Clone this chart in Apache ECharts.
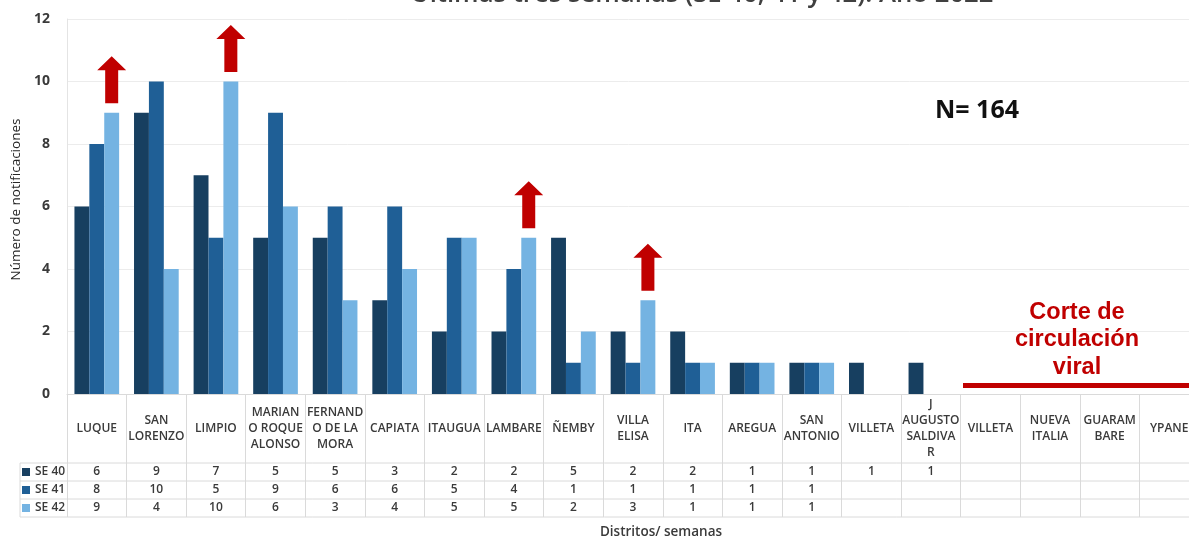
<!DOCTYPE html>
<html>
<head>
<meta charset="utf-8">
<script src="https://cdn.jsdelivr.net/npm/echarts@6/dist/echarts.min.js"></script>
<style>
  html, body { margin: 0; padding: 0; background: #ffffff; }
  #chart { width: 1189px; height: 538px; }
</style>
</head>
<body>
<div id="chart"></div>
<script>
// Districts (labels already wrapped the way the table cells show them)
const districts = [
  'LUQUE', 'SAN\nLORENZO', 'LIMPIO', 'MARIAN\nO ROQUE\nALONSO', 'FERNAND\nO DE LA\nMORA',
  'CAPIATA', 'ITAUGUA', 'LAMBARE', 'ÑEMBY', 'VILLA\nELISA', 'ITA', 'AREGUA',
  'SAN\nANTONIO', 'VILLETA', 'J\nAUGUSTO\nSALDIVA\nR', 'VILLETA', 'NUEVA\nITALIA',
  'GUARAM\nBARE', 'YPANE'
];
const weeks = ['SE 40', 'SE 41', 'SE 42'];
const se40 = [6, 9, 7, 5, 5, 3, 2, 2, 5, 2, 2, 1, 1, 1, 1, null, null, null, null];
const se41 = [8, 10, 5, 9, 6, 6, 5, 4, 1, 1, 1, 1, 1, null, null, null, null, null, null];
const se42 = [9, 4, 10, 6, 3, 4, 5, 5, 2, 3, 1, 1, 1, null, null, null, null, null, null];
// Districts whose last week went up
const risingIdx = [0, 2, 7, 9];
const yMin = 0, yMax = 12, yStep = 2;
const totalN = 164;

const FONT = '"Open Sans", "Noto Sans", sans-serif';
const colors = ['#173f60', '#1f5f96', '#74b3e2'];
const GRID_LINE = '#dadada';
const RED = '#c00000';

const grid = { left: 67, right: -10, top: 19, bottom: 144, outerBoundsMode: 'none', containLabel: false };
const rowCenters = [472, 490, 508];
const axisBottomY = 538 - grid.bottom;

const fmt = v => (v === null || v === undefined) ? '' : String(v);
const rows = [se40, se41, se42];

const arrowPath = 'path://M14.5,0 L29,14 L21,14 L21,47 L8,47 L8,14 L0,14 Z';

// value rows of the data table, one hidden axis per week
const tableAxes = rows.map((arr, r) => ({
  type: 'category',
  data: districts,
  gridIndex: 0,
  position: 'bottom',
  offset: rowCenters[r] - axisBottomY,
  axisLine: { show: false },
  axisTick: { show: false },
  splitLine: { show: false },
  axisLabel: {
    interval: 0,
    margin: 0,
    verticalAlign: 'middle',
    fontFamily: FONT,
    fontSize: 12,
    fontWeight: 600,
    color: '#3a3a3a',
    formatter: (v, i) => fmt(arr[i])
  }
}));

const chart = echarts.init(document.getElementById('chart'));

const tableTop = 463, tableRowH = 18;
const tableLines = [];
for (let k = 0; k <= 3; k++) {
  const y = tableTop + k * tableRowH;
  tableLines.push({
    type: 'line', silent: true, z: 1,
    shape: { x1: 20, y1: y, x2: 1189, y2: y },
    style: { stroke: GRID_LINE, lineWidth: 1 }
  });
}
tableLines.push({
  type: 'line', silent: true, z: 1,
  shape: { x1: 20, y1: tableTop, x2: 20, y2: tableTop + 3 * tableRowH },
  style: { stroke: GRID_LINE, lineWidth: 1 }
});

chart.setOption({
  animation: false,
  backgroundColor: '#ffffff',
  title: {
    text: 'Últimas tres semanas (SE 40, 41 y 42). Año 2022',
    left: 697,
    textAlign: 'center',
    top: -23,
    textStyle: { fontFamily: FONT, fontSize: 25.7, fontWeight: 600, color: '#404040' }
  },
  grid: grid,
  legend: {
    data: weeks,
    orient: 'vertical',
    left: 22,
    top: 465,
    padding: 0,
    icon: 'rect',
    itemWidth: 8,
    itemHeight: 8,
    itemGap: 4,
    selectedMode: false,
    textStyle: { fontFamily: FONT, fontSize: 12, fontWeight: 600, color: '#3a3a3a', lineHeight: 14 }
  },
  xAxis: [{
    type: 'category',
    data: districts,
    gridIndex: 0,
    position: 'bottom',
    name: 'Distritos/ semanas',
    nameLocation: 'middle',
    nameGap: 131,
    nameTextStyle: { fontFamily: FONT, fontSize: 13.5, fontWeight: 600, color: '#3a3a3a', padding: [0, 0, 0, 56] },
    axisLine: { show: true, lineStyle: { color: GRID_LINE, width: 1 } },
    axisTick: { show: true, interval: 0, length: 123, lineStyle: { color: GRID_LINE, width: 1 } },
    splitLine: { show: false },
    axisLabel: {
      interval: 0,
      margin: 35,
      verticalAlign: 'middle',
      align: 'center',
      lineHeight: 16,
      fontFamily: FONT,
      fontSize: 12,
      fontWeight: 600,
      color: '#3a3a3a'
    }
  }].concat(tableAxes),
  yAxis: {
    type: 'value',
    min: yMin,
    max: yMax,
    interval: yStep,
    name: 'Número de notificaciones',
    nameLocation: 'middle',
    nameGap: 43,
    nameTextStyle: { fontFamily: FONT, fontSize: 13.5, fontWeight: 500, color: '#262626', padding: [0, 0, 0, 14] },
    axisLine: { show: true, lineStyle: { color: '#e4e4e4' } },
    axisTick: { show: false },
    splitLine: { show: true, lineStyle: { color: '#ececec', width: 1 } },
    axisLabel: { fontFamily: FONT, fontSize: 14, fontWeight: 700, color: '#3a3a3a', margin: 17 }
  },
  series: rows.map((arr, r) => ({
    name: weeks[r],
    type: 'bar',
    xAxisIndex: 0,
    data: arr,
    barGap: '0%',
    barCategoryGap: '25%',
    itemStyle: { color: colors[r] },
    markPoint: r === 2 ? {
      symbol: arrowPath,
      symbolSize: [29, 47],
      symbolOffset: [0, -33],
      silent: true,
      label: { show: false },
      itemStyle: { color: RED },
      data: risingIdx.map(i => ({ coord: [i, arr[i]] }))
    } : undefined
  })),
  graphic: tableLines.concat([
    {
      type: 'text', silent: true, z: 100,
      x: 935, y: 111,
      style: {
        text: 'N= ' + totalN,
        fontFamily: FONT, fontSize: 25, fontWeight: 700, fill: '#111111',
        verticalAlign: 'middle', textAlign: 'left'
      }
    },
    {
      type: 'text', silent: true, z: 100,
      x: 1077, y: 340,
      style: {
        text: 'Corte de\ncirculación\nviral',
        fontFamily: '"Liberation Sans", Arial, sans-serif', fontSize: 23.5, fontWeight: 700,
        lineHeight: 27.5, fill: RED, textAlign: 'center', verticalAlign: 'middle'
      }
    },
    {
      type: 'rect', silent: true, z: 100,
      shape: { x: 963, y: 383, width: 230, height: 5 },
      style: { fill: RED }
    }
  ])
});
</script>
</body>
</html>
